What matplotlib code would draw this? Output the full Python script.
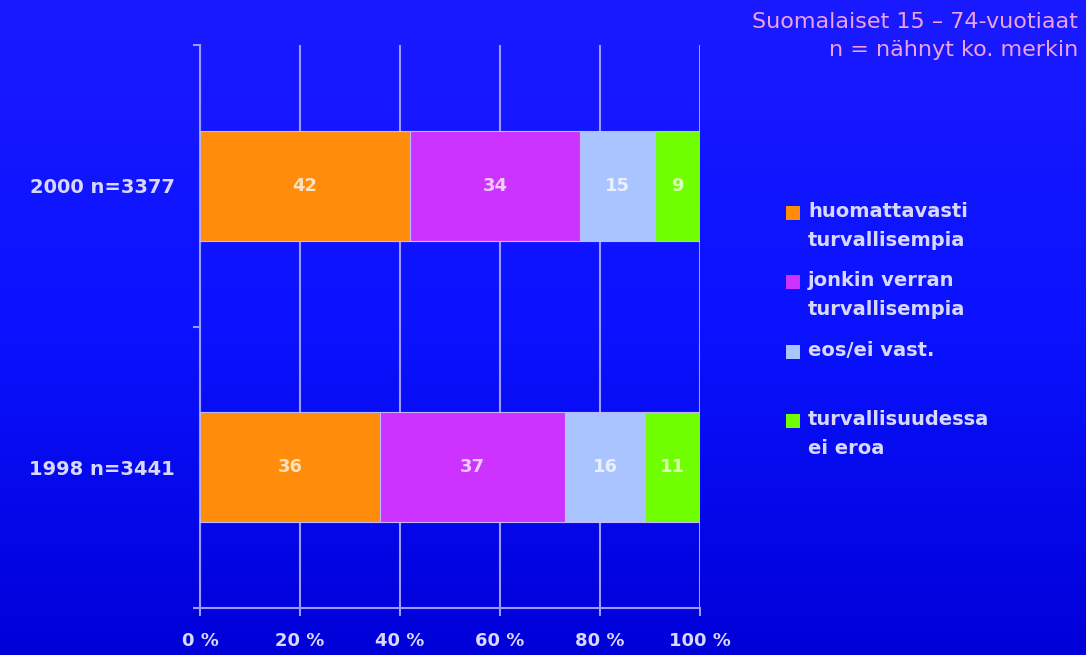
import numpy as np
import matplotlib
matplotlib.use("Agg")
import matplotlib.pyplot as plt
from matplotlib.patches import Rectangle
from matplotlib.colors import LinearSegmentedColormap

# data
years = ["1998 n=3441", "2000 n=3377"]
huomattavasti = [36, 42]
jonkin = [37, 34]
eos = [16, 15]
ei_eroa = [11, 9]
series = [huomattavasti, jonkin, eos, ei_eroa]
legend_labels = ["huomattavasti\nturvallisempia", "jonkin verran\nturvallisempia",
                 "eos/ei vast.", "turvallisuudessa\nei eroa"]
colors = ["#ff8c0a", "#cc33ff", "#aac4ff", "#70ff00"]
xticks = [0, 20, 40, 60, 80, 100]

txt = "#d8d8ff"
grid_col = "#9a9aff"

fig = plt.figure(figsize=(10.86, 6.55), dpi=100)

# blue gradient background
bg = fig.add_axes([0, 0, 1, 1], zorder=-10)
cmap = LinearSegmentedColormap.from_list("bg", ["#1a1aff", "#0a12ff", "#0000d8"])
bg.imshow(np.linspace(0, 1, 256).reshape(-1, 1), aspect="auto", cmap=cmap,
          extent=[0, 1, 0, 1])
bg.axis("off")

ax = fig.add_axes([200 / 1086, 1 - 608 / 655, 500 / 1086, 563 / 655])
ax.patch.set_alpha(0)

ypos = np.arange(len(years))
left = np.zeros(len(years))
for vals, col in zip(series, colors):
    ax.barh(ypos, vals, left=left, height=0.39, color=col, edgecolor="#c0b8ff",
            linewidth=0.8, zorder=3)
    for y, l, v in zip(ypos, left, vals):
        ax.text(l + v / 2, y, str(v), ha="center", va="center", color="white",
                alpha=0.75, fontsize=13, fontweight="bold", zorder=4)
    left = left + np.array(vals)

ax.set_xlim(0, 100)
ax.set_ylim(-0.5, 1.5)
ax.set_xticks(xticks)
ax.set_xticklabels([f"{t} %" for t in xticks])
ax.set_yticks(ypos)
ax.set_yticklabels(years)
ax.set_yticks([-0.5, 0.5, 1.5], minor=True)
ax.tick_params(axis="y", which="major", length=0, pad=18, colors=txt, labelsize=14)
ax.tick_params(axis="y", which="minor", length=5, color=grid_col, width=1.5)
ax.tick_params(axis="x", length=6, color=grid_col, width=1.5, colors=txt,
               labelsize=13, pad=11)
for lab in ax.get_xticklabels() + ax.get_yticklabels():
    lab.set_fontweight("bold")
    lab.set_color(txt)
for t in ax.xaxis.get_ticklines() + ax.yaxis.get_minorticklines():
    t.set_color(grid_col)

ax.grid(axis="x", color=grid_col, linewidth=1.5, zorder=1)
for s in ["top", "right"]:
    ax.spines[s].set_visible(False)
for s in ["left", "bottom"]:
    ax.spines[s].set_color(grid_col)
    ax.spines[s].set_linewidth(1.5)

# legend, drawn by hand so that the squares align with the first line
leg_y = [213, 282, 352, 421]
for lab, col, yy in zip(legend_labels, colors, leg_y):
    fig.patches.append(Rectangle((786 / 1086, 1 - (yy + 7) / 655), 14 / 1086, 14 / 655,
                                 transform=fig.transFigure, facecolor=col,
                                 edgecolor="none"))
    fig.text(808 / 1086, 1 - (yy - 11) / 655, lab, ha="left", va="top", color=txt,
             fontsize=14, fontweight="bold", linespacing=1.65)

fig.text(1078 / 1086, 1 - 22 / 655, "Suomalaiset 15 – 74-vuotiaat", ha="right",
         va="center", color="#eea2e2", fontsize=16)
fig.text(1078 / 1086, 1 - 50 / 655, "n = nähnyt ko. merkin", ha="right",
         va="center", color="#eea2e2", fontsize=16)

fig.savefig("out.png", dpi=100)
